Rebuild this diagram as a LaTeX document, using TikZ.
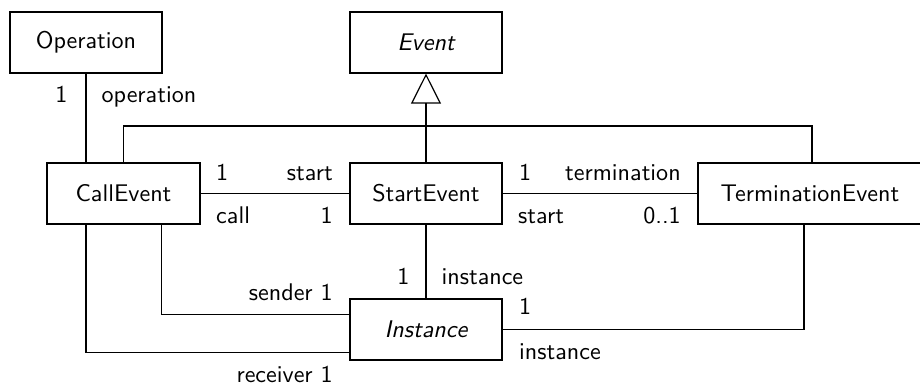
\documentclass[tikz,border=0pt]{standalone}
\usetikzlibrary{arrows.meta,calc}
\begin{document}
\begin{tikzpicture}[x=0.415pt, y=-0.415pt, font=\sffamily, line width=0.5pt,
  cls/.style={draw, inner sep=0pt, minimum width=63.1pt, minimum height=25.3pt},
  abs/.style={cls, font=\sffamily\itshape},
  lbl/.style={inner sep=0pt}]
\useasboundingbox (0,0) rectangle (920,384);
% classes
\node[cls] (op) at (86,42.5) {Operation};
\node[abs] (ev) at (426,42.5) {Event};
\node[cls, minimum width=63.5pt] (call) at (123.5,193.5) {CallEvent};
\node[cls] (start) at (426,193.5) {StartEvent};
\node[cls, minimum width=93pt] (term) at (810,193.5) {TerminationEvent};
\node[abs] (inst) at (426,329.5) {Instance};
% generalization
\coordinate (gbar) at (426,126);
\draw (call.north) |- (gbar) -| ($(term.north)+(2,0)$);
\draw[-{Triangle[open,length=12.5pt,width=12.5pt]}] (start.north) -- (ev.south);
% associations
\draw (op.south) -- (op.south |- call.north);
\draw (call) -- (start);
\draw (start) -- (term);
\draw (start) -- (inst);
\draw ($(call.south)+(38,0)$) |- ($(inst.west)+(0,-15)$);
\draw ($(call.south)+(-37.5,0)$) |- ($(inst.west)+(0,23)$);
\draw (inst.east) -| ($(term.south)+(-6,0)$);
% labels
\node[lbl, anchor=base east] (l1) at ($(op.south)+(-18,29)$) {1};
\node[lbl, anchor=base west] (l2) at ($(op.south)+(15,29)$) {operation};
\node[lbl, anchor=base west] (l3) at ($(call.east)+(15,-13)$) {1};
\node[lbl, anchor=base east] (l4) at ($(start.west)+(-16,-13)$) {start};
\node[lbl, anchor=base west] (l5) at ($(call.east)+(15,30)$) {call};
\node[lbl, anchor=base east] (l6) at ($(start.west)+(-16,30)$) {1};
\node[lbl, anchor=base west] (l7) at ($(start.east)+(16,-13)$) {1};
\node[lbl, anchor=base east] (l8) at ($(term.west)+(-16,-13)$) {termination};
\node[lbl, anchor=base west] (l9) at ($(start.east)+(15,30)$) {start};
\node[lbl, anchor=base east] (l10) at ($(term.west)+(-16,30)$) {0..1};
\node[lbl, anchor=base east] (l11) at ($(inst.north)+(-16,-14)$) {1};
\node[lbl, anchor=base west] (l12) at ($(inst.north)+(15,-14)$) {instance};
\node[lbl, anchor=base east] (l13) at ($(inst.west)+(-16,-29)$) {sender 1};
\node[lbl, anchor=base east] (l14) at ($(inst.west)+(-16,53)$) {receiver 1};
\node[lbl, anchor=base west] (l15) at ($(inst.east)+(16,-14.5)$) {1};
\node[lbl, anchor=base west] (l16) at ($(inst.east)+(16,30.5)$) {instance};
\end{tikzpicture}
\end{document}
